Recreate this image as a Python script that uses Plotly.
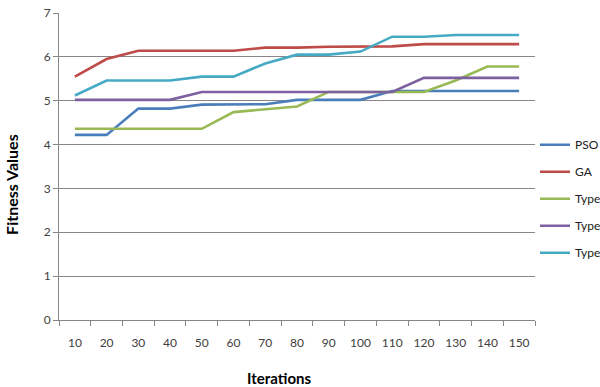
import plotly.graph_objects as go

iterations = ["10", "20", "30", "40", "50", "60", "70", "80", "90", "100",
              "110", "120", "130", "140", "150"]

pso = [4.22, 4.22, 4.82, 4.82, 4.91, 4.91, 4.92, 5.02, 5.02, 5.02,
       5.22, 5.22, 5.22, 5.22, 5.22]
ga = [5.55, 5.95, 6.14, 6.14, 6.14, 6.14, 6.21, 6.21, 6.23, 6.24,
      6.24, 6.29, 6.29, 6.29, 6.29]
type1 = [4.36, 4.36, 4.36, 4.36, 4.36, 4.74, 4.80, 4.87, 5.20, 5.20,
         5.20, 5.20, 5.46, 5.78, 5.78]
type2 = [5.02, 5.02, 5.02, 5.02, 5.20, 5.20, 5.20, 5.20, 5.20, 5.20,
         5.20, 5.52, 5.52, 5.52, 5.52]
type3 = [5.12, 5.46, 5.46, 5.46, 5.55, 5.55, 5.85, 6.05, 6.05, 6.12,
         6.46, 6.46, 6.50, 6.50, 6.50]

series = [
    ("PSO", pso, "#4A7EBB"),
    ("GA", ga, "#BE4B48"),
    ("Type 1", type1, "#98B954"),
    ("Type 2", type2, "#7D60A0"),
    ("Type 3", type3, "#46AAC5"),
]

font_family = "Lato, 'Open Sans', sans-serif"

fig = go.Figure()
for i, (name, vals, color) in enumerate(series):
    fig.add_trace(go.Scatter(
        x=iterations, y=vals, name=name, mode="lines",
        legendgroup=f"g{i}",
        line=dict(color=color, width=2.6),
    ))

fig.update_layout(
    width=600, height=387,
    margin=dict(l=59, r=65, t=13, b=67, autoexpand=False),
    paper_bgcolor="white", plot_bgcolor="white",
    font=dict(family=font_family, size=12, color="#404040"),
    showlegend=True,
    legend=dict(
        x=1.0, xanchor="left", y=0.618, yanchor="top",
        traceorder="grouped", tracegroupgap=8,
        font=dict(family=font_family, size=12, color="#202020"),
        bgcolor="rgba(0,0,0,0)", itemwidth=30,
    ),
    xaxis=dict(
        type="category", range=[-0.5, 14.5],
        showline=True, linecolor="#868686", linewidth=1,
        ticks="outside", tickson="boundaries", ticklen=5,
        tickcolor="#868686", showgrid=False,
        ticklabelstandoff=12,
        tickfont=dict(size=12, color="#404040"),
    ),
    yaxis=dict(
        range=[0, 7], dtick=1,
        showline=True, linecolor="#868686", linewidth=1,
        ticks="outside", ticklen=5, tickcolor="#868686",
        showgrid=True, gridcolor="#868686", gridwidth=1,
        zeroline=False,
        tickfont=dict(size=12, color="#404040"),
    ),
    annotations=[
        dict(text="<b>Iterations</b>", xref="paper", yref="paper",
             x=0.464, y=-0.189, xanchor="center", yanchor="middle",
             showarrow=False, font=dict(size=15, color="#000000")),
        dict(text="<b>Fitness Values</b>", xref="paper", yref="paper",
             x=-0.099, y=0.443, xanchor="center", yanchor="middle",
             textangle=-90, showarrow=False,
             font=dict(size=16, color="#000000")),
    ],
)

fig.write_html("out.html")
